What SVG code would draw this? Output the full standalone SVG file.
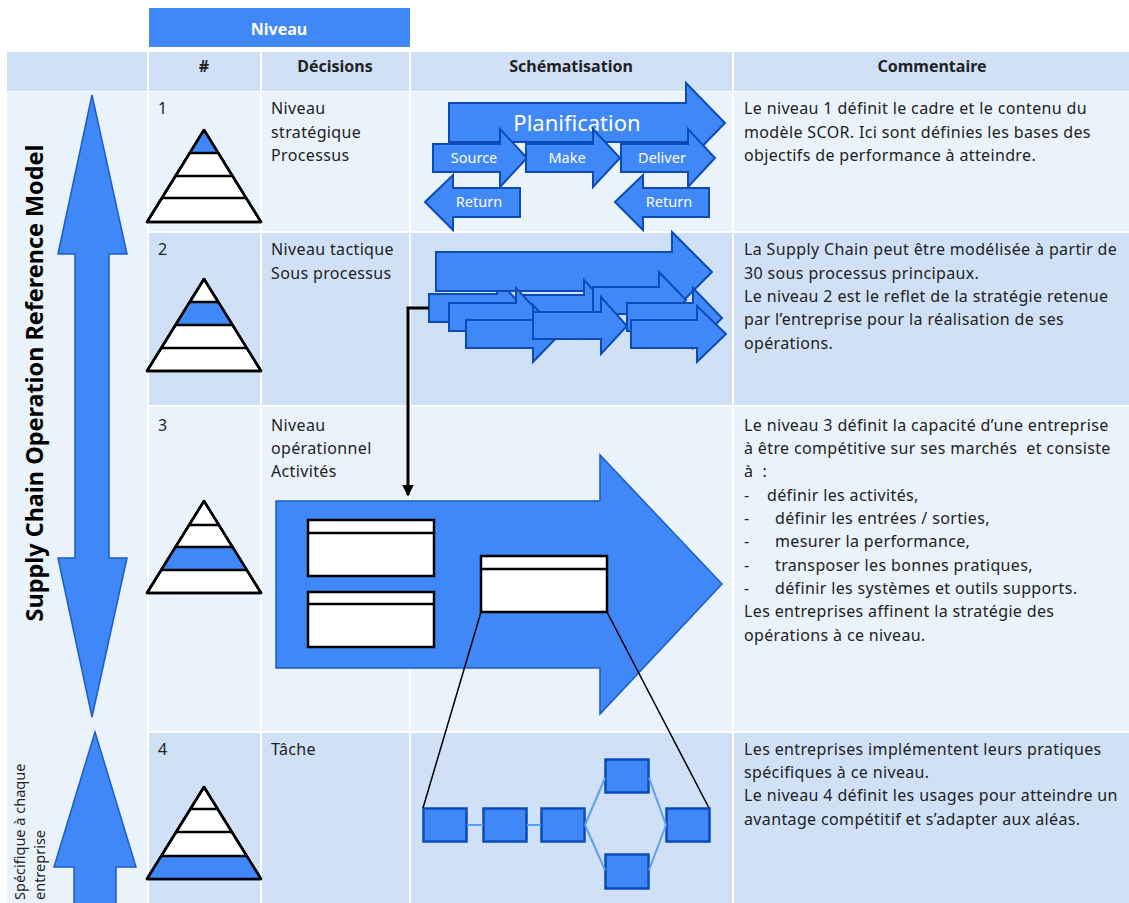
<svg xmlns="http://www.w3.org/2000/svg" width="1129" height="903" viewBox="0 0 1129 903">
<style>
text{font-family:"Noto Sans","Open Sans","Liberation Sans",sans-serif;fill:#222;white-space:pre}
.b{font-weight:700;font-size:16px;text-anchor:middle}
.t{font-size:16px;letter-spacing:.36px}
.l{fill:#eaf2fb}.d{fill:#d0e1f7}
.ar{fill:#4088f8;stroke:#0a4bb8;stroke-width:2;stroke-linejoin:miter}
.ar2{fill:#4088f8;stroke:#1a5cc8;stroke-width:1.5}
.w{fill:#fff;font-size:14.500px;text-anchor:middle}
.py{fill:#fff;stroke:#000;stroke-width:2.500;stroke-linejoin:round}
.band{fill:#4088f8}
.pl{stroke:#000;stroke-width:2.500;fill:none}
.box{fill:#fff;stroke:#000;stroke-width:2.500}
.sq{fill:#4088f8;stroke:#0a4bb8;stroke-width:2.500}
.lk{stroke:#5a9ff5;stroke-width:2;fill:none}
.zl{stroke:#000;stroke-width:1.500;fill:none}
</style>
<defs>
<marker id="ah" markerWidth="5" markerHeight="5" refX="3.500" refY="2" orient="auto"><path d="M0 0L4 2L0 4Z" fill="#000"/></marker>
</defs>
<rect width="1129" height="903" fill="#fff"/>
<g id="table">
<rect x="149" y="8" width="261" height="39" fill="#4088f8"/>
<text x="279" y="35" class="b" style="fill:#fff">Niveau</text>
<rect x="7" y="52" width="140" height="39" class="d"/>
<rect x="149" y="52" width="111" height="39" class="d"/>
<rect x="262" y="52" width="147" height="39" class="d"/>
<rect x="411" y="52" width="321" height="39" class="d"/>
<rect x="734" y="52" width="395" height="39" class="d"/>
<rect x="7" y="92" width="140" height="811" class="l"/>
<rect x="149" y="92" width="111" height="139" class="l"/><rect x="262" y="92" width="147" height="139" class="l"/><rect x="411" y="92" width="321" height="139" class="l"/><rect x="734" y="92" width="395" height="139" class="l"/>
<rect x="149" y="233" width="111" height="172" class="d"/><rect x="262" y="233" width="147" height="172" class="d"/><rect x="411" y="233" width="321" height="172" class="d"/><rect x="734" y="233" width="395" height="172" class="d"/>
<rect x="149" y="407" width="111" height="324" class="l"/><rect x="262" y="407" width="147" height="324" class="l"/><rect x="411" y="407" width="321" height="324" class="l"/><rect x="734" y="407" width="395" height="324" class="l"/>
<rect x="149" y="733" width="111" height="170" class="d"/><rect x="262" y="733" width="147" height="170" class="d"/><rect x="411" y="733" width="321" height="170" class="d"/><rect x="734" y="733" width="395" height="170" class="d"/>
<text x="204" y="72" class="b">#</text>
<text x="335" y="72" class="b">Décisions</text>
<text x="571" y="72" class="b">Schématisation</text>
<text x="932" y="72" class="b">Commentaire</text>
</g>
<g id="side">
<polygon class="ar2" points="92,95 127,254 109,254 109,558 127,558 92,717 58,558 75,558 75,254 58,254"/>
<text transform="translate(43,383) rotate(-90)" text-anchor="middle" font-size="23.400" font-weight="700" style="fill:#000">Supply Chain Operation Reference Model</text>
<polygon class="ar2" points="95,732 136,867 116,867 116,904 74,904 74,867 54,867"/>
<text transform="translate(25,900) rotate(-90)" font-size="14.500">Spécifique à chaque</text>
<text transform="translate(45,900) rotate(-90)" font-size="14.500">entreprise</text>
</g>
<g id="level1">
<text x="158" y="114" class="t">1</text>
<text x="271" y="114" class="t">Niveau</text><text x="271" y="138" class="t">stratégique</text><text x="271" y="161" class="t">Processus</text>
<polygon class="py" points="204,130 261,222 147,222"/>
<polygon class="band" points="204,130 218,153 190,153"/>
<path class="pl" d="M190 153H218M176 176H232M162 198H246"/>
<polygon class="py" style="fill:none" points="204,130 261,222 147,222"/>
<text x="744" y="114" class="t">Le niveau 1 définit le cadre et le contenu du</text>
<text x="744" y="138" class="t">modèle SCOR. Ici sont définies les bases des</text>
<text x="744" y="161" class="t">objectifs de performance à atteindre.</text>
<polygon class="ar" points="449,103 686,103 686,83 725,123 686,163 686,142 449,142"/>
<text x="577" y="131" font-size="22" text-anchor="middle" style="fill:#fff">Planification</text>
<polygon class="ar" points="433,144 500,144 500,129 527,158 500,187 500,172 433,172"/>
<polygon class="ar" points="526,144 593,144 593,129 620,158 593,187 593,172 526,172"/>
<polygon class="ar" points="621,144 688,144 688,129 715,158 688,187 688,172 621,172"/>
<polygon class="ar" points="425,202 453,175 453,188 520,188 520,217 453,217 453,230"/>
<polygon class="ar" points="615,202 643,175 643,188 709,188 709,217 643,217 643,230"/>
<text x="474" y="163" class="w">Source</text><text x="567" y="163" class="w">Make</text><text x="662" y="163" class="w">Deliver</text>
<text x="479" y="207" class="w">Return</text><text x="669" y="207" class="w">Return</text>
</g>
<g id="level2">
<text x="158" y="255" class="t">2</text>
<text x="271" y="255" class="t">Niveau tactique</text><text x="271" y="279" class="t">Sous processus</text>
<polygon class="py" points="204,279 261,371 147,371"/>
<polygon class="band" points="190,302 218,302 232,325 176,325"/>
<path class="pl" d="M190 302H218M176 325H232M162 348H246"/>
<polygon class="py" style="fill:none" points="204,279 261,371 147,371"/>
<text x="744" y="255" class="t">La Supply Chain peut être modélisée à partir de</text>
<text x="744" y="279" class="t">30 sous processus principaux.</text>
<text x="744" y="302" class="t">Le niveau 2 est le reflet de la stratégie retenue</text>
<text x="744" y="325" class="t">par l’entreprise pour la réalisation de ses</text>
<text x="744" y="349" class="t">opérations.</text>
<polygon class="ar" points="429,294 497,294 497,279 524,308 497,337 497,322 429,322"/>
<polygon class="ar" points="436,252 672,252 672,232 712,272 672,312 672,291 436,291"/>
<polygon class="ar" points="520,295 584,295 584,280 611,309 584,338 584,323 520,323"/>
<polygon class="ar" points="593,287 659,287 659,272 686,300 659,329 659,314 593,314"/>
<polygon class="ar" points="627,303 693,303 693,288 722,318 693,348 693,331 627,331"/>
<polygon class="ar" points="449,303 516,303 516,288 543,317 516,346 516,331 449,331"/>
<polygon class="ar" points="466,320 533,320 533,305 560,334 533,362 533,348 466,348"/>
<polygon class="ar" points="533,312 601,312 601,297 627,326 601,354 601,339 533,339"/>
<polygon class="ar" points="631,320 697,320 697,306 726,334 697,362 697,348 631,348"/>
</g>
<g id="level3">
<text x="158" y="431" class="t">3</text>
<text x="271" y="431" class="t">Niveau</text><text x="271" y="454" class="t">opérationnel</text><text x="271" y="477" class="t">Activités</text>
<polygon class="py" points="204,501 261,593 147,593"/>
<polygon class="band" points="176,547 232,547 246,570 162,570"/>
<path class="pl" d="M190 525H218M176 547H232M162 570H246"/>
<polygon class="py" style="fill:none" points="204,501 261,593 147,593"/>
<text x="744" y="431" class="t">Le niveau 3 définit la capacité d’une entreprise</text>
<text x="744" y="454" class="t">à être compétitive sur ses marchés  et consiste</text>
<text x="744" y="477" class="t">à  :</text>
<text x="744" y="501" class="t">-</text><text x="767" y="501" class="t">définir les activités,</text>
<text x="744" y="524" class="t">-</text><text x="775" y="524" class="t">définir les entrées / sorties,</text>
<text x="744" y="547" class="t">-</text><text x="775" y="547" class="t">mesurer la performance,</text>
<text x="744" y="571" class="t">-</text><text x="775" y="571" class="t">transposer les bonnes pratiques,</text>
<text x="744" y="594" class="t">-</text><text x="775" y="594" class="t">définir les systèmes et outils supports.</text>
<text x="744" y="617" class="t">Les entreprises affinent la stratégie des</text>
<text x="744" y="641" class="t">opérations à ce niveau.</text>
<polygon class="ar2" points="276,501 600,501 600,455 722,584 600,714 600,668 276,668"/>
<rect class="box" x="308" y="520" width="126" height="56"/><path class="pl" d="M308 533H434"/>
<rect class="box" x="308" y="592" width="126" height="55"/><path class="pl" d="M308 604H434"/>
<rect class="box" x="481" y="556" width="126" height="56"/><path class="pl" d="M481 569H607"/>
</g>
<g id="level4">
<text x="158" y="755" class="t">4</text>
<text x="271" y="755" class="t">Tâche</text>
<polygon class="py" points="204,787 261,879 147,879"/>
<polygon class="band" points="162,856 246,856 261,879 147,879"/>
<path class="pl" d="M190 809H218M176 832H232M162 856H246"/>
<polygon class="py" style="fill:none" points="204,787 261,879 147,879"/>
<text x="744" y="755" class="t">Les entreprises implémentent leurs pratiques</text>
<text x="744" y="778" class="t">spécifiques à ce niveau.</text>
<text x="744" y="801" class="t">Le niveau 4 définit les usages pour atteindre un</text>
<text x="744" y="825" class="t">avantage compétitif et s’adapter aux aléas.</text>
<rect class="sq" x="423.500" y="808.500" width="43" height="33"/>
<rect class="sq" x="483.500" y="808.500" width="43" height="33"/>
<rect class="sq" x="541.500" y="808.500" width="43" height="33"/>
<rect class="sq" x="605.500" y="759.500" width="43" height="33"/>
<rect class="sq" x="605.500" y="854.500" width="43" height="34"/>
<rect class="sq" x="666.500" y="808.500" width="43" height="33"/>
</g>
<g id="connectors">
<path d="M429 308H408V495" fill="none" stroke="#000" stroke-width="3" marker-end="url(#ah)"/>
<path class="zl" d="M481 612L423 808M607 612L709 808"/>
<path class="lk" d="M467 825H483M527 825H541M585 825L605 778M585 825L605 870M649 778L666 825M649 870L666 825"/>
</g>
</svg>
